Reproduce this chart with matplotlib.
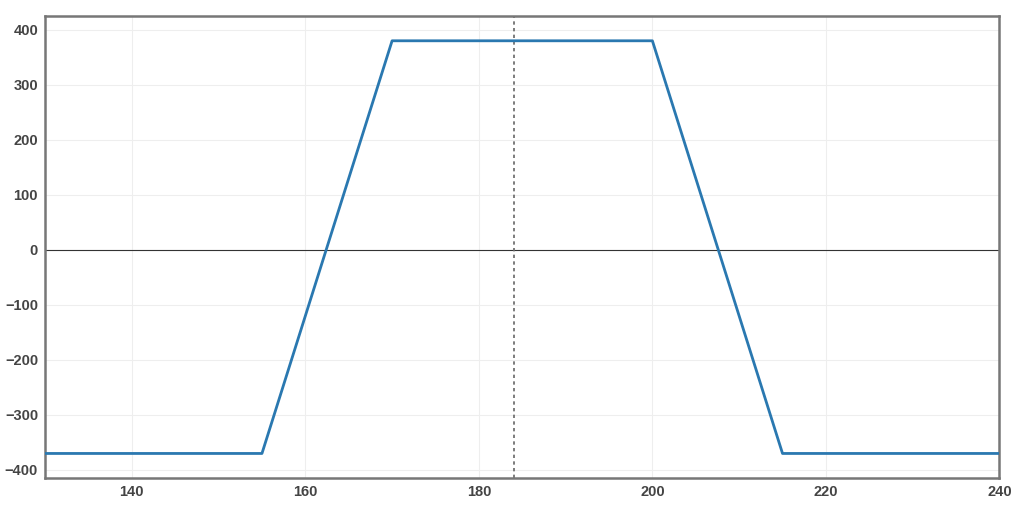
import matplotlib
matplotlib.use("Agg")
import matplotlib.pyplot as plt

# payoff breakpoints
price = [130, 155, 170, 200, 215, 240]
pnl = [-370, -370, 380, 380, -370, -370]
current_price = 184
x_ticks = [140, 160, 180, 200, 220, 240]
y_ticks = [-400, -300, -200, -100, 0, 100, 200, 300, 400]

plt.rcParams["font.family"] = ["Liberation Sans", "DejaVu Sans"]

fig = plt.figure(figsize=(10.24, 5.17), dpi=100)
ax = fig.add_axes([0.044, 0.075, 0.932, 0.894])

ax.plot(price, pnl, color="#2a78b0", lw=2, zorder=3)
ax.axhline(0, color="#333333", lw=0.8, zorder=2)
ax.axvline(current_price, color="#666666", lw=1.2, ls=(0, (2, 2)), zorder=2)

ax.set_xlim(130, 240)
ax.set_ylim(-415, 425)
ax.set_xticks(x_ticks)
ax.set_yticks(y_ticks)
ax.grid(True, color="#eeeeee", lw=0.8)
ax.set_axisbelow(True)
ax.tick_params(length=0, pad=5, labelsize=10.5, labelcolor="#444444")
for lab in ax.get_xticklabels() + ax.get_yticklabels():
    lab.set_fontweight("bold")
for sp in ax.spines.values():
    sp.set_color("#777777")
    sp.set_linewidth(1.8)

fig.savefig("out.png", dpi=100)
